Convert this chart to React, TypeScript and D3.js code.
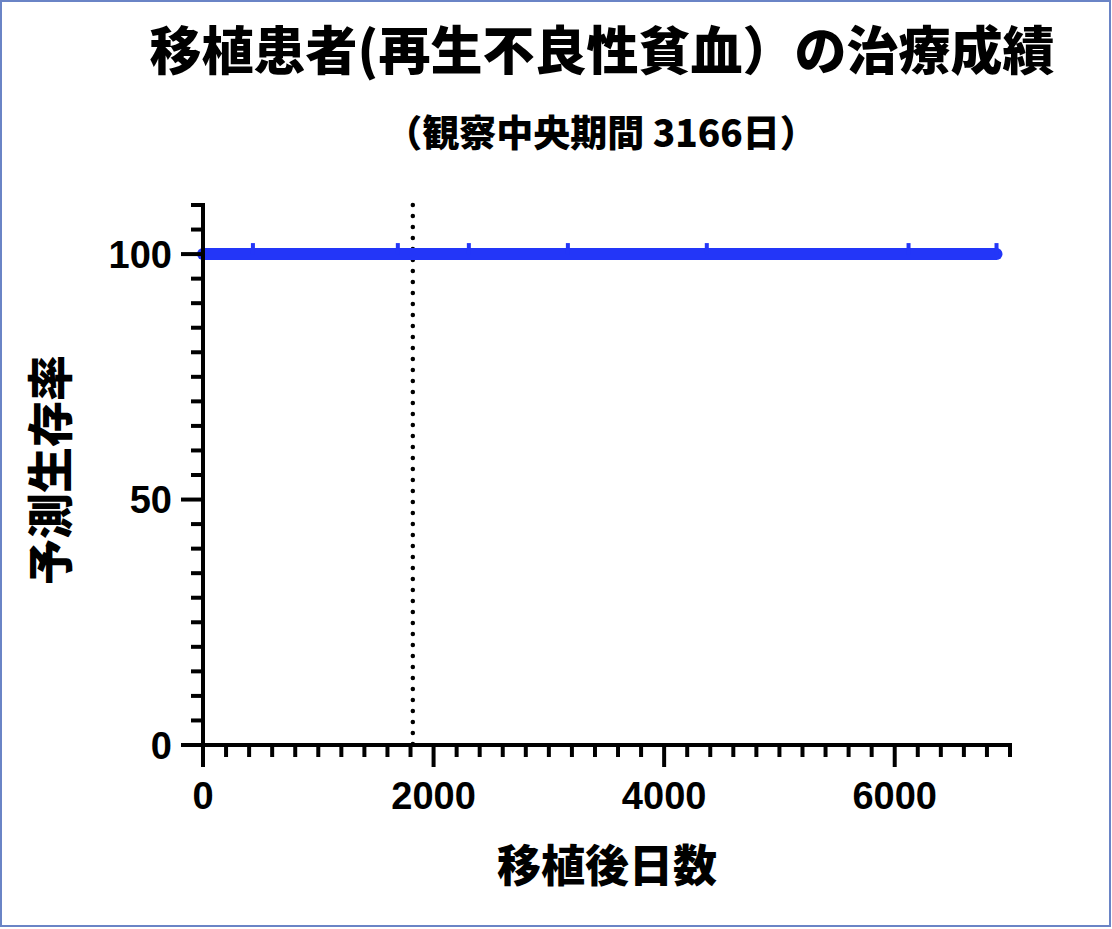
import * as d3 from 'd3'

// survival curve (Kaplan-Meier, flat at 100%)
const curveDays = [0, 6883]
const curveRate = [100, 100]
// censored patients (days after transplant)
const censorDays = [433, 1690, 2306, 3165, 4370, 6120, 6883]
// median observation marker
const medianDay = 1820

const xTicks = [0, 2000, 4000, 6000]
const yTicks = [0, 50, 100]

const TITLE = '移植患者(再生不良性貧血）の治療成績'
const SUBTITLE = '（観察中央期間 3166日）'
const X_LABEL = '移植後日数'
const Y_LABEL = '予測生存率'

const W = 1112
const H = 929
const JP = '"Noto Sans CJK JP", "Noto Sans", sans-serif'
const NUM = '"Liberation Sans", Arial, sans-serif'
const BLUE = '#2336f8'

const App = () => {
    const x = d3.scaleLinear().domain([0, 7000]).range([203, 1010])
    const y = d3.scaleLinear().domain([0, 110]).range([745, 205])

    const xMinor = d3.range(0, 7001, 200)
    const yMinor = d3.range(0, 111, 5)

    const pts = curveDays.map((d, i) => [d, curveRate[i]] as [number, number])
    const line = d3
        .line<[number, number]>()
        .x(d => x(d[0]))
        .y(d => y(d[1]))

    return (
        <div style={{ position: 'absolute', left: 0, top: 0 }}>
            <svg width={W} height={H} style={{ display: 'block', background: '#fff' }}>
                <rect x={1} y={1} width={W - 3} height={H - 4} fill="none" stroke="#6a84c6" strokeWidth={2} />

                <text x={602} y={70} textAnchor="middle" fontFamily={JP} fontWeight={900} fontSize={52}>
                    {TITLE}
                </text>
                <text x={601} y={147} textAnchor="middle" fontFamily={JP} fontWeight={900} fontSize={37}>
                    {SUBTITLE}
                </text>

                {/* median marker */}
                <line
                    x1={x(medianDay)}
                    x2={x(medianDay)}
                    y1={y(110)}
                    y2={y(0)}
                    stroke="#000"
                    strokeWidth={4.5}
                    strokeLinecap="round"
                    strokeDasharray="0 11"
                />

                {/* survival curve */}
                <path d={line(pts)} fill="none" stroke={BLUE} strokeWidth={12} strokeLinecap="round" />
                {censorDays.map(d => (
                    <line
                        key={d}
                        x1={x(d)}
                        x2={x(d)}
                        y1={y(100)}
                        y2={y(100) - 11}
                        stroke={BLUE}
                        strokeWidth={4}
                    />
                ))}

                {/* y axis */}
                <line x1={x(0)} x2={x(0)} y1={y(110) - 2} y2={y(0)} stroke="#000" strokeWidth={4} />
                {yMinor.map(v => (
                    <line
                        key={v}
                        x1={x(0) - (yTicks.includes(v) ? 22 : 12)}
                        x2={x(0)}
                        y1={y(v)}
                        y2={y(v)}
                        stroke="#000"
                        strokeWidth={4}
                    />
                ))}
                {yTicks.map(v => (
                    <text
                        key={v}
                        x={172}
                        y={y(v)}
                        dy="0.36em"
                        textAnchor="end"
                        fontFamily={NUM}
                        fontWeight={700}
                        fontSize={38}
                    >
                        {v}
                    </text>
                ))}
                <text
                    transform={`translate(67, 470) rotate(-90)`}
                    textAnchor="middle"
                    fontFamily={JP}
                    fontWeight={900}
                    fontSize={46}
                >
                    {Y_LABEL}
                </text>

                {/* x axis */}
                <line x1={x(0) - 2} x2={x(7000) + 2} y1={y(0)} y2={y(0)} stroke="#000" strokeWidth={4} />
                {xMinor.map(v => (
                    <line
                        key={v}
                        x1={x(v)}
                        x2={x(v)}
                        y1={y(0)}
                        y2={y(0) + (xTicks.includes(v) ? 22 : 12)}
                        stroke="#000"
                        strokeWidth={4}
                    />
                ))}
                {xTicks.map(v => (
                    <text
                        key={v}
                        x={x(v)}
                        y={809}
                        textAnchor="middle"
                        fontFamily={NUM}
                        fontWeight={700}
                        fontSize={38}
                    >
                        {v}
                    </text>
                ))}
                <text x={607} y={882} textAnchor="middle" fontFamily={JP} fontWeight={900} fontSize={44}>
                    {X_LABEL}
                </text>
            </svg>
        </div>
    )
}

export default App
